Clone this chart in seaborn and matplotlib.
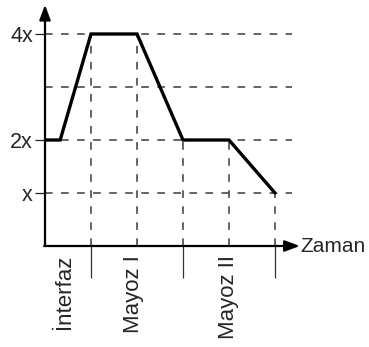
import matplotlib
matplotlib.use("Agg")
import matplotlib.pyplot as plt
import seaborn as sns
import pandas as pd

# DNA amount through the cell cycle
time_pts = [0, 0.33, 1, 2, 3, 4, 5]
dna_amount = [2, 2, 4, 4, 2, 2, 1]

ytick_vals = [1, 2, 4]
ytick_labels = ["x", "2x", "4x"]
grid_levels = [1, 2, 3, 4]
phase_bounds = [1, 3, 5]
phase_names = ["İnterfaz", "Mayoz I", "Mayoz II"]
phase_label_pos = [0.42, 1.92, 4.0]
drop_x = [1, 2, 3, 4, 5]
drop_y = [4, 4, 2, 2, 1]
axis_label = "Zaman"

sns.set_style("white")
plt.rcParams["font.family"] = ["Liberation Sans", "DejaVu Sans"]

W, H = 369, 347
fig = plt.figure(figsize=(W / 100, H / 100), dpi=100)
ux, uy = 46, 53
x0_px, y0_px = 45, 246
xmax, ymax = 5.6, 4.55
ax = fig.add_axes([x0_px / W, (H - y0_px) / H, xmax * ux / W, ymax * uy / H])
ax.set_xlim(0, xmax)
ax.set_ylim(0, ymax)
for s in ax.spines.values():
    s.set_visible(False)

dash = (0, (5, 5.5))
dcol = "#3a3a3a"
# horizontal guide lines
for lv in grid_levels:
    ax.plot([0, 5.37], [lv, lv], color=dcol, lw=1.1, ls=dash, zorder=1)
# vertical guides from each bend down to the time axis
for xv, yv in zip(drop_x, drop_y):
    ax.plot([xv, xv], [0, yv], color=dcol, lw=1.1, ls=dash, zorder=1)

df = pd.DataFrame({"t": time_pts, "dna": dna_amount})
sns.lineplot(data=df, x="t", y="dna", sort=False, color="black", lw=2.4,
             ax=ax, zorder=3, solid_joinstyle="miter")
ax.set_xlabel("")
ax.set_ylabel("")

# axes with arrow heads
arrow = dict(arrowstyle="-|>,head_length=0.75,head_width=0.28", lw=1.6,
             color="black", shrinkA=0, shrinkB=0, mutation_scale=12)
ax.annotate("", xy=(0, ymax), xytext=(0, 0), arrowprops=arrow,
            annotation_clip=False)
ax.annotate("", xy=(5.54, 0), xytext=(-0.02, 0), arrowprops=arrow,
            annotation_clip=False)
ax.text(5.55, 0.0, axis_label, ha="left", va="center", fontsize=15,
        clip_on=False)

# ticks
ax.set_yticks(ytick_vals)
ax.set_yticklabels(ytick_labels, fontsize=15.5)
ax.tick_params(axis="y", direction="out", length=7.5, width=0.9,
               color="#222222", pad=1.2, left=True)
ax.set_xticks(phase_bounds)
ax.set_xticklabels([])
ax.tick_params(axis="x", direction="out", length=23, width=0.9,
               color="#333333", bottom=True)

for pos, name in zip(phase_label_pos, phase_names):
    ax.annotate(name, xy=(pos, 0), xytext=(0, -6.5), textcoords="offset points",
                rotation=90, ha="center", va="top", fontsize=16,
                annotation_clip=False)

fig.savefig("out.png", dpi=100)
